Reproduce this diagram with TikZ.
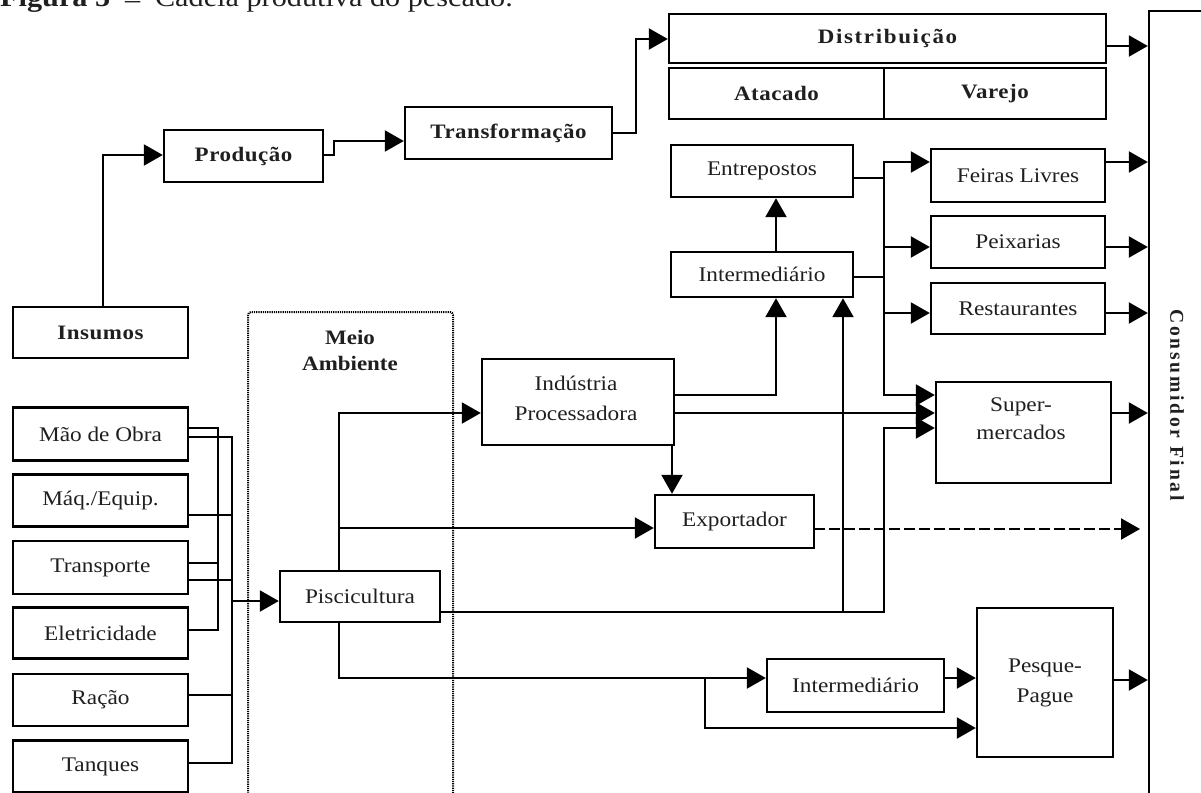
\documentclass[tikz,border=0pt]{standalone}
\usepackage{fontspec}
\setmainfont{Liberation Serif}[FakeStretch=1.12]
\newfontfamily\spacedbf{Liberation Serif}[FakeStretch=1.12, LetterSpace=2.5]
\newfontfamily\widebf{Liberation Serif}[FakeStretch=1.12, LetterSpace=8]
\newfontfamily\cffont{Liberation Serif}[LetterSpace=14]
\usetikzlibrary{arrows.meta}
\begin{document}
\begin{tikzpicture}[x=1pt,y=-1pt,
  every node/.style={font=\fontsize{20.8}{28}\selectfont, text=black!88},
  box/.style={draw, line width=2.4pt, inner sep=0pt, align=center},
  bbox/.style={box, font=\fontsize{20.5}{28}\selectfont\spacedbf\bfseries},
  conn/.style={line width=2.2pt, line cap=rect},
  arr/.style={conn, -{Triangle[length=19pt,width=21pt]}},
  dashedline/.style={dash pattern=on 9pt off 6pt},
  dotbox/.style={line width=2pt, dash pattern=on 1.2pt off 1pt, rounded corners=3pt}
]
\useasboundingbox (0,0) rectangle (1201,792);
\clip (0,0) rectangle (1201,792);

% title (cut off at the top)
\node[anchor=base west, inner sep=0pt, font=\fontsize{27}{30}\selectfont] (title) at (0,6.5)
  {\textbf{Figura 5}\hspace{0.55em}\raisebox{-2pt}{–}\hspace{0.55em}Cadeia produtiva do pescado.};

% environment area
\draw[dotbox] (248,820) -- (248,312) -- (453,312) -- (453,820);
\node[font=\fontsize{20.5}{26}\selectfont\bfseries, align=center] (meio) at (350,350) {Meio\\Ambiente};

% top chain
\node[bbox, minimum width=175pt, minimum height=51pt] (insumos) at (100.5,332.5) {Insumos};
\node[bbox, minimum width=159pt, minimum height=52pt] (producao) at (243.5,156) {Produção};
\node[bbox, minimum width=207pt, minimum height=52pt] (transf) at (508.5,133) {Transformação};
\node[bbox, minimum width=437pt, minimum height=49pt, font=\fontsize{20.5}{28}\selectfont\widebf\bfseries] (distr) at (887.5,38.5) {Distribuição};
\node[bbox, minimum width=215pt, minimum height=51pt] (atac) at (776.5,93.5) {Atacado};
\node[bbox, minimum width=222pt, minimum height=51pt] (varejo) at (995,93.5) {Varejo};

% consumer
\node[draw, line width=2.4pt, minimum width=120pt, minimum height=820pt, inner sep=0pt] (cf) at (1209,421) {};
\node[rotate=-90, font=\fontsize{19.6}{24}\selectfont\cffont\bfseries] (cftxt) at (1177,405) {Consumidor Final};

% retail
\node[box, minimum width=182pt, minimum height=52pt] (entre) at (762,171) {Entrepostos};
\node[box, minimum width=182pt, minimum height=45pt] (interA) at (762,274.5) {Intermediário};
\node[box, minimum width=174pt, minimum height=53pt] (feiras) at (1018,175.5) {Feiras Livres};
\node[box, minimum width=174pt, minimum height=52pt] (peix) at (1018,242) {Peixarias};
\node[box, minimum width=174pt, minimum height=51pt] (rest) at (1018,308.5) {Restaurantes};
\node[box, minimum width=175pt, minimum height=101pt] (super) at (1023.5,432.5) {};
\node[align=center] (supertxt) at (1021,419) {Super-\\mercados};

% industry
\node[box, minimum width=192pt, minimum height=86pt] (industria) at (578,402) {};
\node[align=center, font=\fontsize{20.8}{30}\selectfont] (indtxt) at (576,398) {Indústria\\Processadora};
\node[box, minimum width=159pt, minimum height=53pt] (export) at (734.5,521.5) {Exportador};
\node[box, minimum width=160pt, minimum height=51pt] (pisc) at (360,596.5) {Piscicultura};
\node[box, minimum width=177pt, minimum height=53pt] (interB) at (855.5,685.5) {Intermediário};
\node[box, minimum width=136pt, minimum height=149pt, font=\fontsize{20.8}{30}\selectfont] (pesque) at (1045,682.5) {Pesque-\\Pague};

% inputs
\node[box, minimum width=175pt, minimum height=53pt] (mao) at (100.5,434) {Mão de Obra};
\node[box, minimum width=175pt, minimum height=52pt] (maq) at (100.5,500.5) {Máq./Equip.};
\node[box, minimum width=175pt, minimum height=53pt] (transp) at (100.5,567.5) {Transporte};
\node[box, minimum width=175pt, minimum height=51pt] (eletr) at (100.5,633) {Eletricidade};
\node[box, minimum width=175pt, minimum height=52pt] (racao) at (100.5,700) {Ração};
\node[box, minimum width=175pt, minimum height=52pt] (tanques) at (100.5,766.5) {Tanques};

% ---- connectors ----
\draw[arr] (insumos.north -| 103,0) |- (producao.west |- 0,155);
\draw[arr] (producao.east |- 0,155) -- (334,155) -- (334,141) -- (transf.west |- 0,141);
\draw[arr] (transf.east) -- (636,133) -- (636,39) -- (distr.west |- 0,39);
\draw[arr] (distr.east |- 0,46) -- (cf.west |- 0,46);

% input buses
\draw[conn] (mao.east |- 0,428) -- (218,428) -- (218,630) -- (eletr.east |- 0,630);
\draw[conn] (transp.east |- 0,563) -- (218,563);
\draw[conn] (mao.east |- 0,437) -- (232,437) -- (232,763) -- (tanques.east |- 0,763);
\draw[conn] (maq.east |- 0,515) -- (232,515);
\draw[conn] (transp.east |- 0,580) -- (232,580);
\draw[conn] (racao.east |- 0,695) -- (232,695);
\draw[arr] (232,601) -- (pisc.west |- 0,601);

% from piscicultura
\draw[arr] (pisc.north -| 339,0) |- (industria.west |- 0,413);
\draw[arr] (339,528) -- (export.west |- 0,528);
\draw[conn] (pisc.south -| 339,0) -- (339,678);
\draw[arr] (339,678) -- (interB.west |- 0,678);
\draw[arr] (705,678) |- (pesque.west |- 0,728);
\draw[arr] (interB.east |- 0,678) -- (pesque.west |- 0,678);
\draw[arr] (pesque.east |- 0,680) -- (cf.west |- 0,680);
\draw[arr] (pisc.east |- 0,612) -- (884,612) -- (884,428) -- (super.west |- 0,428);
\draw[arr] (843,612) -- (interA.south -| 843,0);

% from industria
\draw[arr] (industria.east |- 0,395) -| (interA.south -| 776,0);
\draw[arr] (industria.east |- 0,413) -- (super.west |- 0,413);
\draw[arr] (industria.south -| 672,0) -- (export.north -| 672,0);
\coordinate (exptip) at (1140,529);
\draw[arr, dashedline] (export.east |- 0,529) -- (exptip);

% intermediario / entrepostos
\draw[arr] (interA.north -| 776,0) -- (entre.south -| 776,0);
\draw[conn] (entre.east |- 0,178) -- (884,178);
\draw[conn] (interA.east |- 0,277) -- (884,277);
\draw[conn] (884,162) -- (884,395);
\draw[arr] (884,162) -- (feiras.west |- 0,162);
\draw[arr] (884,247) -- (peix.west |- 0,247);
\draw[arr] (884,313) -- (rest.west |- 0,313);
\draw[arr] (884,395) -- (super.west |- 0,395);

% to consumer
\draw[arr] (feiras.east |- 0,162) -- (cf.west |- 0,162);
\draw[arr] (peix.east |- 0,247) -- (cf.west |- 0,247);
\draw[arr] (rest.east |- 0,313) -- (cf.west |- 0,313);
\draw[arr] (super.east |- 0,413) -- (cf.west |- 0,413);
\end{tikzpicture}
\end{document}
